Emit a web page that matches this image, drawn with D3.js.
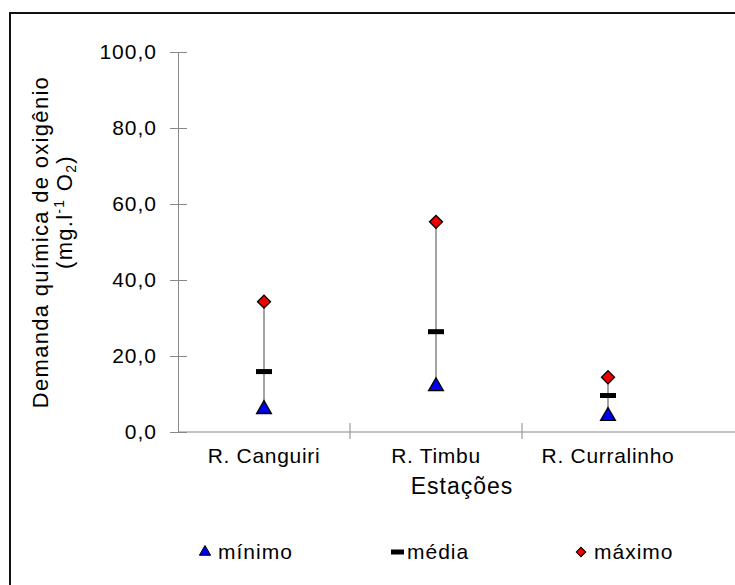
<!DOCTYPE html>
<html>
<head>
<meta charset="utf-8">
<script src="https://cdn.jsdelivr.net/npm/d3@7"></script>
<style>
  body { margin: 0; background: #fff; }
  text { font-family: "Liberation Sans", Arial, sans-serif; fill: #000; }
</style>
</head>
<body>
<div id="chart"></div>
<script>
var width = 735,
    height = 585;

// data
var stations = ['R. Canguiri', 'R. Timbu', 'R. Curralinho'];
var minimo = [6.0, 12.0, 4.2];
var media = [15.9, 26.4, 9.6];
var maximo = [34.3, 55.3, 14.4];
var yTicks = [0, 20, 40, 60, 80, 100];
var legendNames = ['mínimo', 'média', 'máximo'];

var plotLeft = 178, plotRight = 694, plotTop = 52, plotBottom = 432;

var svg = d3.select('#chart')
  .append('svg')
  .attr('width', width)
  .attr('height', height);

svg.append('rect')
  .attr('width', width).attr('height', height)
  .attr('fill', '#fff');

// outer frame (cropped on the right and bottom)
svg.append('rect')
  .attr('x', 10).attr('y', 13)
  .attr('width', 760).attr('height', 620)
  .attr('fill', 'none')
  .attr('stroke', '#111')
  .attr('stroke-width', 2);

var xScale = d3.scaleBand()
  .domain(stations)
  .range([plotLeft, plotRight]);

var yScale = d3.scaleLinear()
  .domain([0, 100])
  .range([plotBottom, plotTop]);

var fmt = function (d) { return d3.format('.1f')(d).replace('.', ','); };

// y axis
var yAxis = d3.axisLeft(yScale)
  .tickValues(yTicks)
  .tickFormat(fmt)
  .tickSizeInner(8)
  .tickSizeOuter(0)
  .tickPadding(13);

var gy = svg.append('g')
  .attr('transform', 'translate(' + plotLeft + ',0)')
  .call(yAxis);
gy.select('.domain').attr('stroke', '#888');
gy.selectAll('.tick line').attr('x1', 9).attr('stroke', '#888');
gy.selectAll('.tick text')
  .style('font-size', '21px')
  .style('letter-spacing', '1px')
  .attr('fill', '#000');

// x axis
var xAxis = d3.axisBottom(xScale).tickSize(0).tickPadding(16);
var gx = svg.append('g')
  .attr('transform', 'translate(0,' + plotBottom + ')')
  .call(xAxis);
gx.select('.domain').remove();
gx.append('line')
  .attr('x1', plotLeft).attr('x2', width)
  .attr('stroke', '#888');
gx.selectAll('.sep')
  .data(stations.slice(1))
  .enter()
  .append('line')
  .attr('class', 'sep')
  .attr('x1', function (d) { return xScale(d); })
  .attr('x2', function (d) { return xScale(d); })
  .attr('y1', -9).attr('y2', 7)
  .attr('stroke', '#888');
gx.selectAll('.tick text')
  .style('font-size', '21px')
  .style('letter-spacing', '0.7px')
  .attr('fill', '#000');

// axis titles
svg.append('text')
  .attr('x', 462).attr('y', 494)
  .attr('text-anchor', 'middle')
  .style('font-size', '23px')
  .style('letter-spacing', '1px')
  .text('Estações');

var ylab = svg.append('text')
  .attr('transform', 'translate(48,242) rotate(-90)')
  .attr('text-anchor', 'middle')
  .style('font-size', '22px')
  .style('letter-spacing', '1.3px');
ylab.append('tspan').attr('x', 0).attr('y', 0).text('Demanda química de oxigênio');
var l2 = ylab.append('tspan').attr('x', 30).attr('y', 24);
l2.append('tspan').text('(mg.l');
l2.append('tspan').attr('dy', -8).style('font-size', '14px').text('-1');
l2.append('tspan').attr('dy', 8).text(' O');
l2.append('tspan').attr('dy', 4).style('font-size', '14px').text('2');
l2.append('tspan').attr('dy', -4).text(')');

// min-max lines
var cx = function (i) { return xScale(stations[i]) + xScale.bandwidth() / 2; };

svg.selectAll('.range')
  .data(stations)
  .enter()
  .append('line')
  .attr('class', 'range')
  .attr('x1', function (d, i) { return cx(i); })
  .attr('x2', function (d, i) { return cx(i); })
  .attr('y1', function (d, i) { return yScale(minimo[i]); })
  .attr('y2', function (d, i) { return yScale(maximo[i]); })
  .attr('stroke', '#666')
  .attr('stroke-width', 1.2);

var tri = d3.symbol().type(d3.symbolTriangle).size(95);
var dia = d3.symbol().type(d3.symbolSquare).size(85);

svg.selectAll('.min')
  .data(minimo)
  .enter()
  .append('path')
  .attr('class', 'min')
  .attr('d', tri)
  .attr('transform', function (d, i) { return 'translate(' + cx(i) + ',' + yScale(d) + ')'; })
  .attr('fill', '#0000ee')
  .attr('stroke', '#000')
  .attr('stroke-width', 1.3);

svg.selectAll('.mean')
  .data(media)
  .enter()
  .append('rect')
  .attr('class', 'mean')
  .attr('x', function (d, i) { return cx(i) - 8; })
  .attr('y', function (d) { return yScale(d) - 2.5; })
  .attr('width', 16).attr('height', 5)
  .attr('fill', '#000');

svg.selectAll('.max')
  .data(maximo)
  .enter()
  .append('path')
  .attr('class', 'max')
  .attr('d', dia)
  .attr('transform', function (d, i) { return 'translate(' + cx(i) + ',' + yScale(d) + ') rotate(45)'; })
  .attr('fill', '#ee0000')
  .attr('stroke', '#000')
  .attr('stroke-width', 1.3);

// legend
var legendX = [205, 397, 581];
var legend = svg.selectAll('.legend')
  .data(legendNames)
  .enter()
  .append('g')
  .attr('class', 'legend')
  .attr('transform', function (d, i) { return 'translate(' + legendX[i] + ',552)'; });

legend.each(function (d, i) {
  var g = d3.select(this);
  if (i === 0) {
    g.append('path').attr('d', d3.symbol().type(d3.symbolTriangle).size(55))
      .attr('fill', '#0000ee').attr('stroke', '#000').attr('stroke-width', 1);
  } else if (i === 1) {
    g.append('rect').attr('x', -6).attr('y', -2.5).attr('width', 13).attr('height', 5).attr('fill', '#000');
  } else {
    g.append('path').attr('d', d3.symbol().type(d3.symbolSquare).size(45))
      .attr('transform', 'rotate(45)')
      .attr('fill', '#ee0000').attr('stroke', '#000').attr('stroke-width', 1);
  }
});

legend.append('text')
  .attr('x', function (d, i) { return i === 1 ? 10 : 13; })
  .attr('dy', '0.35em')
  .style('font-size', '21px')
  .style('letter-spacing', '1px')
  .text(function (d) { return d; });
</script>
</body>
</html>
